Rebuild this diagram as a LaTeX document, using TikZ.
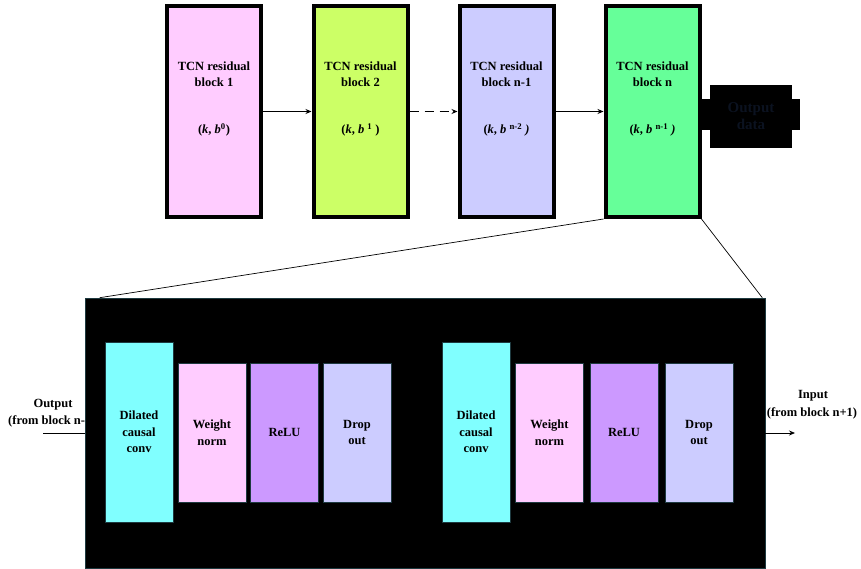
\documentclass[tikz,border=0pt]{standalone}
\usepackage{fontspec}
\setmainfont{Liberation Serif}
\usetikzlibrary{arrows.meta}
\definecolor{cpink}{HTML}{FFCCFF}
\definecolor{clime}{HTML}{CCFF66}
\definecolor{clav}{HTML}{CCCCFF}
\definecolor{cgreen}{HTML}{66FF99}
\definecolor{ccyan}{HTML}{80FFFF}
\definecolor{cpurple}{HTML}{CC99FF}
\definecolor{cdark}{HTML}{0B1220}
\definecolor{cedge}{HTML}{1E3A40}
\begin{document}
\begin{tikzpicture}[x=1pt,y=-1pt,
  txt/.style={font=\bfseries\fontsize{12.5}{16.5}\selectfont, align=center, inner sep=0pt},
  topblk/.style={draw=black, line width=4pt, minimum width=94pt, minimum height=211pt, inner sep=0pt},
  inblk/.style={txt, draw=cedge, line width=0.8pt, minimum width=68pt},
  conn/.style={line width=0.8pt, -{Stealth[length=6pt,width=5pt]}},
  thin/.style={line width=0.7pt}]
\useasboundingbox (0,0) rectangle (861,569);

% top row
\node[topblk, fill=cpink]  (b1) at (214,111.5) {};
\node[topblk, fill=clime]  (b2) at (360.5,111.5) {};
\node[topblk, fill=clav]   (b3) at (506.5,111.5) {};
\node[topblk, fill=cgreen] (b4) at (652.5,111.5) {};

\node[txt] (b1t) at (214,74) {TCN residual\\block 1};
\node[txt] (b2t) at (360.5,74) {TCN residual\\block 2};
\node[txt] (b3t) at (506.5,74) {TCN residual\\block n-1};
\node[txt] (b4t) at (652.5,74) {TCN residual\\block n};
\node[txt] (b1k) at (214,130) {(\textit{k}, \textit{b}\textsuperscript{0})};
\node[txt] (b2k) at (360.5,130) {(\textit{k}, \textit{b} \textsuperscript{1} )};
\node[txt] (b3k) at (506.5,130) {(\textit{k}, \textit{b} \textsuperscript{n-2} \textit{)}};
\node[txt] (b4k) at (652.5,130) {(\textit{k}, \textit{b} \textsuperscript{n-1} \textit{)}};

\draw[conn] (b1) -- (b2);
\draw[conn, dashed, dash pattern=on 9pt off 6pt] (b2) -- (b3);
\draw[conn] (b3) -- (b4);

% output data
\node[fill=black, minimum width=102pt, minimum height=31pt, inner sep=0pt] (outbar) at (749,114.5) {};
\node[fill=black, minimum width=82pt, minimum height=63pt, inner sep=0pt, text=cdark,
      font=\bfseries\fontsize{15}{17}\selectfont, align=center] (out) at (751,116.5) {Output\\data};

% left input text (partly hidden by detail box)
\node[txt, anchor=center] (inl1) at (53,405) {Output};
\node[txt, anchor=west] (inl2) at (8,421) {(from block n-1)};

% detail box
\node[fill=black, draw=cedge, line width=0.6pt, minimum width=680pt, minimum height=270pt, inner sep=0pt] (detail) at (425,433) {};

\draw[thin] (b4.south west) -- ([xshift=15pt]detail.north west);
\draw[thin] (b4.south east) -- ([xshift=-3pt]detail.north east);

% inner blocks
\node[inblk, fill=ccyan, minimum height=180pt]   (d1) at (139,432) {Dilated\\causal\\conv};
\node[inblk, fill=cpink, minimum height=139pt]   (w1) at (212,432.5) {Weight\\norm};
\node[inblk, fill=cpurple, minimum height=139pt] (r1) at (284.5,432.5) {ReLU};
\node[inblk, fill=clav, minimum height=139pt]    (o1) at (357,432.5) {Drop\\out};
\node[inblk, fill=ccyan, minimum height=180pt]   (d2) at (476,432) {Dilated\\causal\\conv};
\node[inblk, fill=cpink, minimum height=139pt]   (w2) at (549.5,432.5) {Weight\\norm};
\node[inblk, fill=cpurple, minimum height=139pt] (r2) at (624,432.5) {ReLU};
\node[inblk, fill=clav, minimum height=139pt]    (o2) at (699,432.5) {Drop\\out};

% input / output arrows
\coordinate (lin) at (43,433);
\draw[line width=1pt] (lin) -- (detail.west);
\coordinate (rout) at (795,433);
\draw[conn] (detail.east) -- (rout);
\node[txt] (inr1) at (813,396) {Input};
\node[txt] (inr2) at (812,413) {(from block n+1)};
\end{tikzpicture}
\end{document}
